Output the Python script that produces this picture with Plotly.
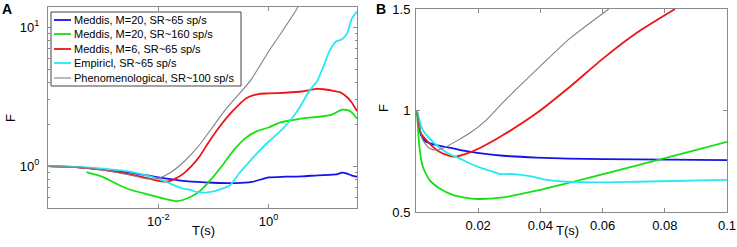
import math
import plotly.graph_objects as go

# ---------------- DATA ----------------
# Panel A (log-log), T in seconds
blue_A_T = [1e-4, 3.2e-4, 1e-3, 3.2e-3, 0.01, 0.0316, 0.1, 0.25, 0.5, 1, 2, 4, 7.9, 12.6, 17.8, 21.4, 26.3, 31.6, 40]
blue_A_F = [1.0, 0.985, 0.95, 0.9, 0.83, 0.78, 0.76, 0.755, 0.77, 0.83, 0.84, 0.845, 0.86, 0.865, 0.875, 0.9, 0.885, 0.86, 0.84]

green_A_T = [5e-4, 1e-3, 2.1e-3, 3.2e-3, 7.2e-3, 0.0135, 0.0219, 0.038, 0.0562, 0.087, 0.141, 0.224, 0.37, 0.6, 1,
             1.58, 2.7, 4.5, 8.3, 14.1, 21.4, 28.8, 32.4, 40]
green_A_F = [0.906, 0.835, 0.72, 0.674, 0.62, 0.58, 0.56, 0.60, 0.66, 0.79, 1.0, 1.28, 1.58, 1.78, 1.9,
             2.06, 2.15, 2.22, 2.27, 2.35, 2.55, 2.51, 2.43, 2.2]

red_A_T = [1e-4, 3.2e-4, 1e-3, 3.2e-3, 6.3e-3, 0.01, 0.0126, 0.0158, 0.02, 0.0282, 0.0398, 0.0562, 0.083, 0.126,
           0.224, 0.4, 0.69, 1, 2, 4, 7.2, 10, 14.1, 20, 25, 31.6, 40]
red_A_F = [1.0, 0.985, 0.94, 0.87, 0.82, 0.785, 0.775, 0.78, 0.81, 0.88, 1.0, 1.18, 1.5, 1.9,
           2.5, 3.1, 3.32, 3.34, 3.38, 3.45, 3.6, 3.58, 3.5, 3.4, 3.2, 2.9, 2.5]

cyan_A_T = [1e-4, 3.2e-4, 1e-3, 3.2e-3, 0.01, 0.0141, 0.02, 0.0251, 0.0282, 0.0355, 0.0447, 0.0562, 0.0794, 0.1,
            0.115, 0.2, 0.3, 0.45, 0.69, 1, 1.78, 2.5, 3.55, 5.5, 7.6, 10, 12.6, 16.6, 21.4, 26.3, 32.4, 40]
cyan_A_F = [1.0, 0.99, 0.96, 0.91, 0.81, 0.77, 0.725, 0.70, 0.688, 0.68, 0.66, 0.648, 0.648, 0.658,
            0.67, 0.73, 0.9, 1.08, 1.3, 1.5, 1.85, 2.15, 2.6, 3.5, 4.1, 5.3, 6.7, 7.9, 8.2, 9.0, 11.6, 13.0]

gray_A_T = [1e-4, 3.2e-4, 1e-3, 3.2e-3, 6.3e-3, 0.01, 0.0158, 0.0251, 0.0398, 0.0617, 0.1, 0.158, 0.224, 0.46,
            1, 1.78, 3.16, 3.55]
gray_A_F = [1.0, 0.985, 0.94, 0.86, 0.81, 0.82, 0.89, 1.02, 1.22, 1.5, 1.95, 2.5, 2.95, 4.1,
            6.7, 9.4, 13.3, 14.5]

# Panel B (linear), T in seconds
blue_B_T = [0.0003, 0.0016, 0.0032, 0.0065, 0.0118, 0.0172, 0.028, 0.0387, 0.049, 0.071, 0.1]
blue_B_F = [1.0, 0.879, 0.846, 0.83, 0.814, 0.797, 0.777, 0.768, 0.763, 0.759, 0.756]

green_B_T = [0.0003, 0.0011, 0.0022, 0.0043, 0.0075, 0.0118, 0.0172, 0.0204, 0.028, 0.0387, 0.0505, 0.0602, 0.0785, 0.1]
green_B_F = [1.0, 0.82, 0.723, 0.658, 0.617, 0.584, 0.567, 0.564, 0.572, 0.605, 0.649, 0.686, 0.759, 0.846]

red_B_T = [0.0003, 0.0016, 0.0043, 0.0075, 0.0108, 0.0129, 0.016, 0.0204, 0.028, 0.0387, 0.0495, 0.0602, 0.071, 0.0833]
red_B_F = [1.0, 0.888, 0.838, 0.797, 0.777, 0.773, 0.786, 0.814, 0.879, 0.986, 1.117, 1.257, 1.383, 1.5]

cyan_B_T = [0.0003, 0.0022, 0.0054, 0.0086, 0.0113, 0.014, 0.0172, 0.0204, 0.0247, 0.0269, 0.0312, 0.0366, 0.042,
            0.049, 0.058, 0.071, 0.1]
cyan_B_F = [1.0, 0.904, 0.846, 0.805, 0.781, 0.764, 0.74, 0.72, 0.699, 0.687, 0.687, 0.677, 0.658,
            0.649, 0.646, 0.649, 0.658]

gray_B_T = [0.0003, 0.0022, 0.0043, 0.0065, 0.0097, 0.0172, 0.0226, 0.028, 0.0387, 0.0495, 0.062]
gray_B_F = [1.0, 0.855, 0.814, 0.805, 0.822, 0.888, 0.953, 1.04, 1.2, 1.355, 1.5]

series_names = ["Meddis, M=20, SR~65 sp/s", "Meddis, M=20, SR~160 sp/s", "Meddis, M=6, SR~65 sp/s",
                "Empiricl, SR~65 sp/s", "Phenomenological, SR~100 sp/s"]
series_colors = ["#1414e6", "#14e014", "#f01414", "#28e8f2", "#808080"]
series_widths = [1.8, 1.8, 1.8, 1.8, 1.1]

A_xticks = [0.01, 1]
A_xticklabels = ["10<sup>-2</sup>", "10<sup>0</sup>"]
A_yticks = [1, 10]
A_yticklabels = ["10<sup>0</sup>", "10<sup>1</sup>"]
A_yminor = [0.6, 0.7, 0.8, 0.9, 2, 3, 4, 5, 6, 7, 8, 9]
B_xticks = [0.02, 0.04, 0.06, 0.08, 0.1]
B_xticklabels = ["0.02", "0.04", "0.06", "0.08", "0.1"]
B_yticks = [0.5, 1, 1.5]
B_yticklabels = ["0.5", "1", "1.5"]

# ---------------- FIGURE ----------------
W, H = 737, 247
FONT = "Liberation Sans, Arial, sans-serif"
AXC = "#8a8a8a"

A_data = [(blue_A_T, blue_A_F), (green_A_T, green_A_F), (red_A_T, red_A_F), (cyan_A_T, cyan_A_F), (gray_A_T, gray_A_F)]
B_data = [(blue_B_T, blue_B_F), (green_B_T, green_B_F), (red_B_T, red_B_F), (cyan_B_T, cyan_B_F), (gray_B_T, gray_B_F)]

fig = go.Figure()
for i, (t, f) in enumerate(A_data):
    fig.add_trace(go.Scatter(x=t, y=f, mode="lines", name=series_names[i], showlegend=False, hoverinfo="skip",
                             line=dict(color=series_colors[i], width=series_widths[i], shape="spline", smoothing=0.6),
                             xaxis="x", yaxis="y"))
for i, (t, f) in enumerate(B_data):
    fig.add_trace(go.Scatter(x=t, y=f, mode="lines", name=series_names[i], showlegend=False, hoverinfo="skip",
                             line=dict(color=series_colors[i], width=series_widths[i], shape="spline", smoothing=0.6),
                             xaxis="x2", yaxis="y2"))

def px_x(p):
    return p / W

def px_y(p):
    return 1 - p / H

common = dict(showgrid=False, zeroline=False, showline=True, linecolor=AXC, linewidth=1, mirror="ticks",
              ticks="inside", ticklen=4, tickcolor=AXC, tickwidth=1, automargin=False,
              tickfont=dict(family=FONT, size=13, color="black"), tickmode="array")

fig.update_layout(
    width=W, height=H, margin=dict(l=0, r=0, t=0, b=0, pad=0, autoexpand=False),
    paper_bgcolor="white", plot_bgcolor="white", showlegend=False, hovermode=False,
    font=dict(family=FONT, color="black"),
    xaxis=dict(type="log", range=[-4, math.log10(40)], domain=[px_x(48), px_x(357)], anchor="y",
               tickvals=A_xticks, ticktext=A_xticklabels, ticklabelstandoff=1, **common),
    yaxis=dict(type="log", range=[math.log10(0.5), math.log10(14)], domain=[px_y(208), px_y(7)], anchor="x",
               tickvals=A_yticks, ticktext=A_yticklabels, ticklabelstandoff=5,
               minor=dict(tickmode="array", tickvals=A_yminor, ticks="inside", ticklen=2, tickcolor=AXC), **common),
    xaxis2=dict(range=[0, 0.1], domain=[px_x(416), px_x(727)], anchor="y2",
                tickvals=B_xticks, ticktext=B_xticklabels, ticklabelstandoff=1, **common),
    yaxis2=dict(range=[0.5, 1.5], domain=[px_y(212), px_y(9)], anchor="x2",
                tickvals=B_yticks, ticktext=B_yticklabels, ticklabelstandoff=2, **common),
)

def label(text, x, y, size=13, angle=0, xanchor="center"):
    return dict(text=text, x=px_x(x), y=px_y(y), xref="paper", yref="paper", showarrow=False,
                xanchor=xanchor, yanchor="middle", textangle=angle, font=dict(size=size, family=FONT, color="black"))

ann = [
    label("<b>A</b>", 7, 9, size=14),
    label("<b>B</b>", 381, 9, size=14),
    label("F", 10, 118, angle=-90),
    label("F", 383, 108, angle=-90),
    label("T(s)", 203, 230),
    label("T(s)", 567, 230),
]

shapes = [dict(type="rect", xref="paper", yref="paper", x0=px_x(51), x1=px_x(241), y0=px_y(86), y1=px_y(12),
               line=dict(color="#444444", width=1), fillcolor="white", layer="above")]
row_y = [20, 34, 49, 63, 78]
for i, name in enumerate(series_names):
    shapes.append(dict(type="line", xref="paper", yref="paper", x0=px_x(54), x1=px_x(71),
                       y0=px_y(row_y[i]), y1=px_y(row_y[i]),
                       line=dict(color=series_colors[i], width=series_widths[i]), layer="above"))
    ann.append(label(name, 72, row_y[i], size=11, xanchor="left"))

fig.update_layout(annotations=ann, shapes=shapes)
fig.write_html("out.html", config={"displayModeBar": False, "staticPlot": True},
               post_script="document.documentElement.style.margin='0px';document.body.style.margin='0px';")
